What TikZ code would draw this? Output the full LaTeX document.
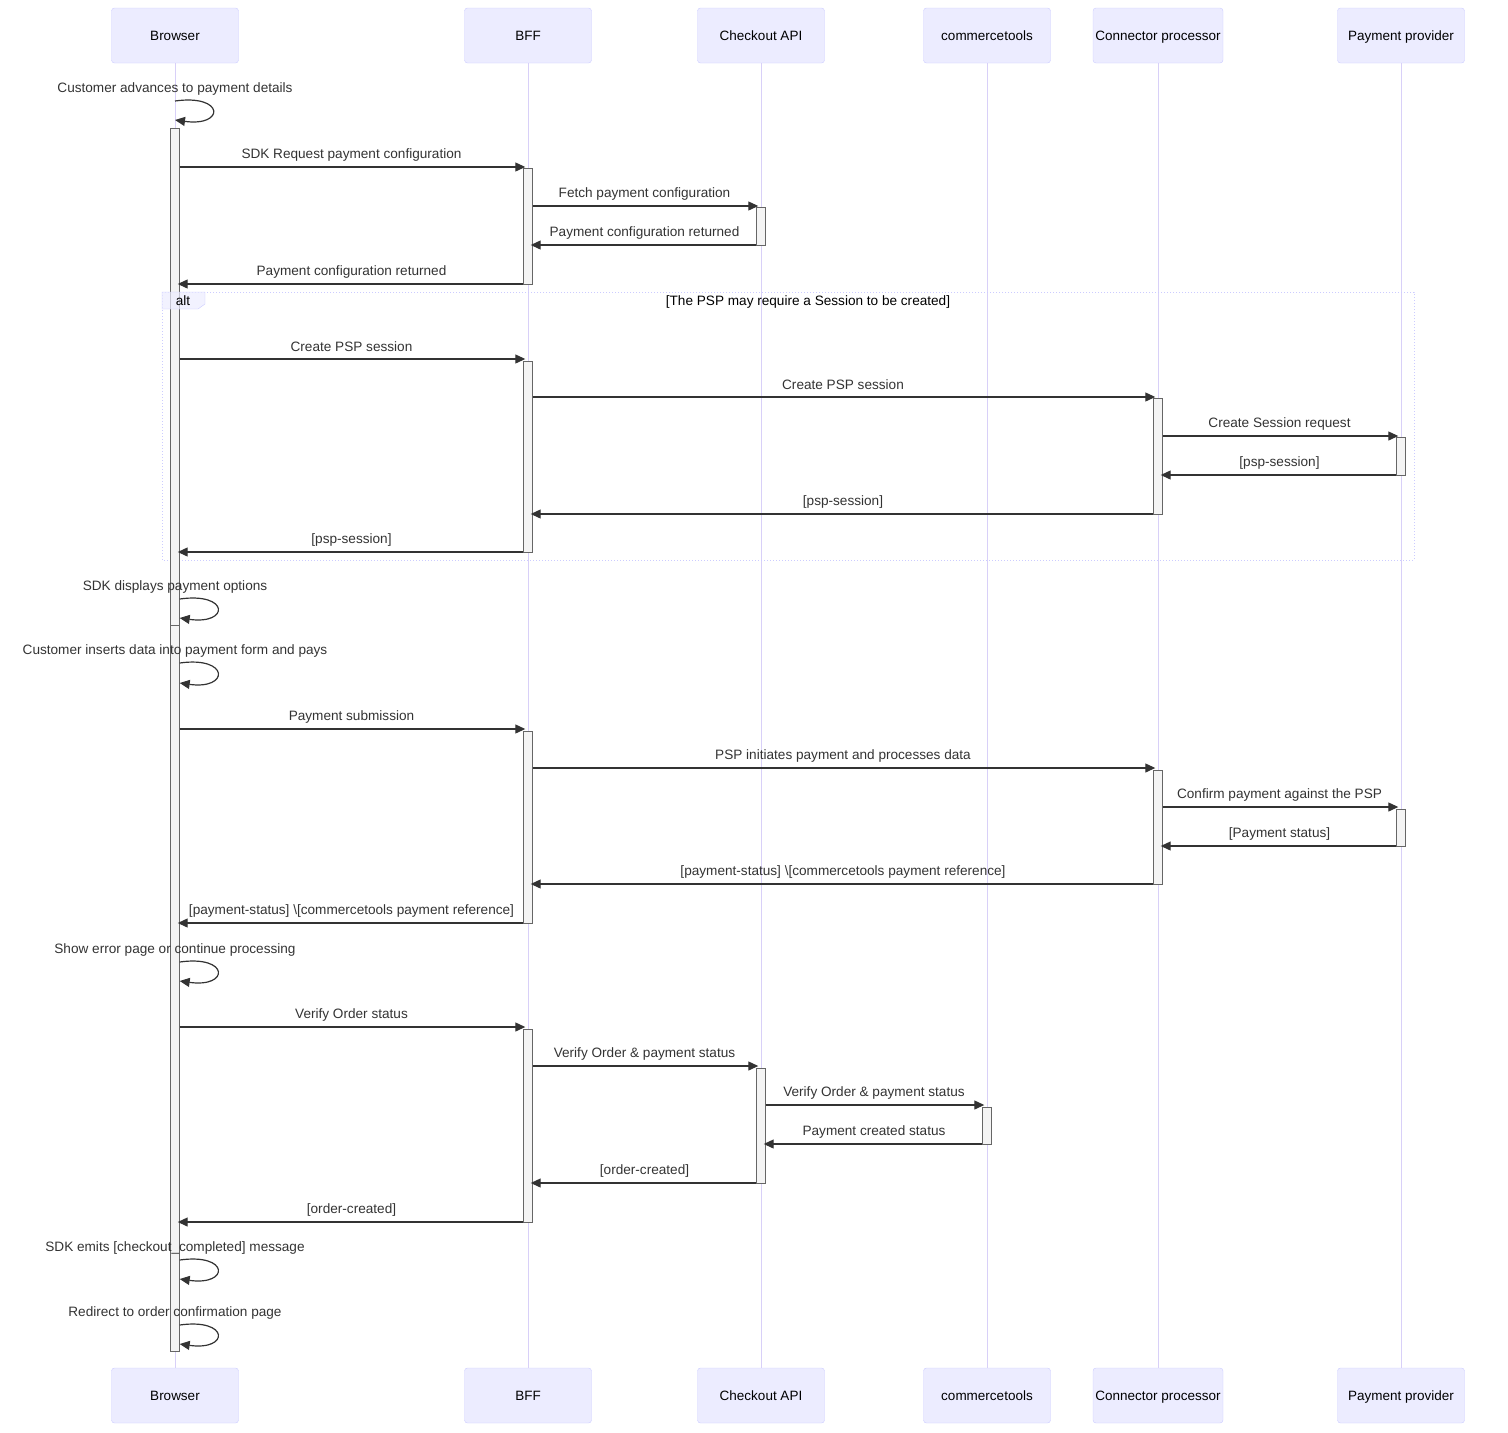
\documentclass[tikz,border=0pt]{standalone}
\usepackage{fontspec}
\setmainfont{Liberation Sans}
\usetikzlibrary{arrows.meta}
\definecolor{actorfill}{HTML}{ECECFF}
\definecolor{actorline}{HTML}{CCCCFF}
\definecolor{lifecol}{HTML}{D8D0F8}
\definecolor{barfill}{HTML}{F4F4F4}
\definecolor{barline}{HTML}{666666}
\definecolor{msgcol}{HTML}{333333}
\tikzset{
    actor/.style={draw=actorline, fill=actorfill, rounded corners=3pt, minimum width=127pt, minimum height=55pt, inner sep=0pt, text height=12pt, text depth=2pt, font=\fontsize{13.5}{16}\selectfont},
    lifeline/.style={draw=lifecol, line width=1pt},
    actbar/.style={draw=barline, fill=barfill, minimum width=9pt, inner sep=0pt, anchor=north},
    msg/.style={draw=msgcol, line width=1.2pt, -{Triangle[length=10pt,width=9pt]}, shorten >=-2pt},
    lbl/.style={midway, yshift=12pt, text=msgcol, font=\fontsize{13.6}{16}\selectfont, inner sep=0pt},
    selflbl/.style={text=msgcol, font=\fontsize{13.6}{16}\selectfont, inner sep=0pt},
    altframe/.style={draw=actorline, dotted, line width=1pt},
}
\begin{document}
\begin{tikzpicture}[x=1pt, y=-1pt]
    \useasboundingbox (0,0) rectangle (1508,1433);
\node[actor] (browser) at (175,35.5) {Browser};
\node[actor] (bff) at (528,35.5) {BFF};
\node[actor] (checkout) at (761,35.5) {Checkout API};
\node[actor] (ct) at (987,35.5) {commercetools};
\node[actor, minimum width=130pt] (connector) at (1158,35.5) {Connector processor};
\node[actor] (psp) at (1401,35.5) {Payment provider};
\node[actor] (browserB) at (175,1395.5) {Browser};
\node[actor] (bffB) at (528,1395.5) {BFF};
\node[actor] (checkoutB) at (761,1395.5) {Checkout API};
\node[actor] (ctB) at (987,1395.5) {commercetools};
\node[actor, minimum width=130pt] (connectorB) at (1158,1395.5) {Connector processor};
\node[actor] (pspB) at (1401,1395.5) {Payment provider};
\draw[lifeline] (browser) -- (browserB);
\draw[lifeline] (bff) -- (bffB);
\draw[lifeline] (checkout) -- (checkoutB);
\draw[lifeline] (ct) -- (ctB);
\draw[lifeline] (connector) -- (connectorB);
\draw[lifeline] (psp) -- (pspB);
\draw[altframe] (162,292) rectangle (1414,560);
\node[actbar, minimum height=497pt] (bA) at (175,128) {};
\node[actbar, minimum height=726pt] (bB) at (175,625) {};
\node[actbar, minimum height=116pt] (fA) at (528,168) {};
\node[actbar, minimum height=191pt] (fB) at (528,361) {};
\node[actbar, minimum height=192pt] (fC) at (528,731) {};
\node[actbar, minimum height=193pt] (fD) at (528,1029) {};
\node[actbar, minimum height=38pt] (cA) at (761,207) {};
\node[actbar, minimum height=115pt] (cB) at (761,1068) {};
\node[actbar, minimum height=37pt] (tA) at (987,1107) {};
\node[actbar, minimum height=116pt] (pA) at (1158,398) {};
\node[actbar, minimum height=114pt] (pB) at (1158,770) {};
\node[actbar, minimum height=38pt] (qA) at (1401,437) {};
\node[actbar, minimum height=37pt] (qB) at (1401,809) {};
\draw[fill=actorfill, fill opacity=0.7, draw=actorline] (162,292) -- (205,292) -- (205,304) -- (198,309) -- (162,309) -- cycle;
\node[font=\fontsize{13.6}{16}\selectfont, inner sep=0pt] (altlbl) at (183,301) {alt};
\node[font=\fontsize{13.6}{16}\selectfont, inner sep=0pt] (altcond) at (808,302) {[The PSP may require a Session to be created]};
\node[selflbl] (s1) at (175,89) {Customer advances to payment details};
\draw[msg, shorten >=0pt] (browser |- 0,101) .. controls +(50,-7) and +(50,7) .. (browser |- 0,120);
\draw[msg] (bA.east |- 0,167) -- (fA.west |- 0,167) node[lbl] {SDK Request payment configuration};
\draw[msg] (fA.east |- 0,206) -- (cA.west |- 0,206) node[lbl] {Fetch payment configuration};
\draw[msg] (cA.west |- 0,245) -- (fA.east |- 0,245) node[lbl] {Payment configuration returned};
\draw[msg] (fA.west |- 0,284) -- (bA.east |- 0,284) node[lbl] {Payment configuration returned};
\draw[msg] (bA.east |- 0,359) -- (fB.west |- 0,359) node[lbl] {Create PSP session};
\draw[msg] (fB.east |- 0,397) -- (pA.west |- 0,397) node[lbl] {Create PSP session};
\draw[msg] (pA.east |- 0,436) -- (qA.west |- 0,436) node[lbl] {Create Session request};
\draw[msg] (qA.west |- 0,475) -- (pA.east |- 0,475) node[lbl] {[psp-session]};
\draw[msg] (pA.west |- 0,514) -- (fB.east |- 0,514) node[lbl] {[psp-session]};
\draw[msg] (fB.west |- 0,552) -- (bA.east |- 0,552) node[lbl] {[psp-session]};
\node[selflbl] (s2) at (175,587) {SDK displays payment options};
\draw[msg, shorten >=0pt] (bA.east |- 0,599) .. controls +(50,-7) and +(50,7) .. (bA.east |- 0,618);
\node[selflbl] (s3) at (175,651) {Customer inserts data into payment form and pays};
\draw[msg, shorten >=0pt] (bB.east |- 0,663) .. controls +(50,-7) and +(50,7) .. (bB.east |- 0,683);
\draw[msg] (bB.east |- 0,729) -- (fC.west |- 0,729) node[lbl] {Payment submission};
\draw[msg] (fC.east |- 0,768) -- (pB.west |- 0,768) node[lbl] {PSP initiates payment and processes data};
\draw[msg] (pB.east |- 0,807) -- (qB.west |- 0,807) node[lbl] {Confirm payment against the PSP};
\draw[msg] (qB.west |- 0,846) -- (pB.east |- 0,846) node[lbl] {[Payment status]};
\draw[msg] (pB.west |- 0,884) -- (fC.east |- 0,884) node[lbl] {[payment-status] \textbackslash[commercetools payment reference]};
\draw[msg] (fC.west |- 0,923) -- (bB.east |- 0,923) node[lbl] {[payment-status] \textbackslash[commercetools payment reference]};
\node[selflbl] (s4) at (175,950) {Show error page or continue processing};
\draw[msg, shorten >=0pt] (bB.east |- 0,962) .. controls +(50,-7) and +(50,7) .. (bB.east |- 0,981);
\draw[msg] (bB.east |- 0,1027) -- (fD.west |- 0,1027) node[lbl] {Verify Order status};
\draw[msg] (fD.east |- 0,1066) -- (cB.west |- 0,1066) node[lbl] {Verify Order \& payment status};
\draw[msg] (cB.east |- 0,1105) -- (tA.west |- 0,1105) node[lbl] {Verify Order \& payment status};
\draw[msg] (tA.west |- 0,1144) -- (cB.east |- 0,1144) node[lbl] {Payment created status};
\draw[msg] (cB.west |- 0,1183) -- (fD.east |- 0,1183) node[lbl] {[order-created]};
\draw[msg] (fD.west |- 0,1222) -- (bB.east |- 0,1222) node[lbl] {[order-created]};
\node[selflbl] (s5) at (175,1248) {SDK emits [checkout\_completed] message};
\draw[msg, shorten >=0pt] (bB.east |- 0,1260) .. controls +(50,-7) and +(50,7) .. (bB.east |- 0,1279);
\node[selflbl] (s6) at (175,1313) {Redirect to order confirmation page};
\draw[msg, shorten >=0pt] (bB.east |- 0,1325) .. controls +(50,-7) and +(50,7) .. (bB.east |- 0,1344);
\end{tikzpicture}
\end{document}
